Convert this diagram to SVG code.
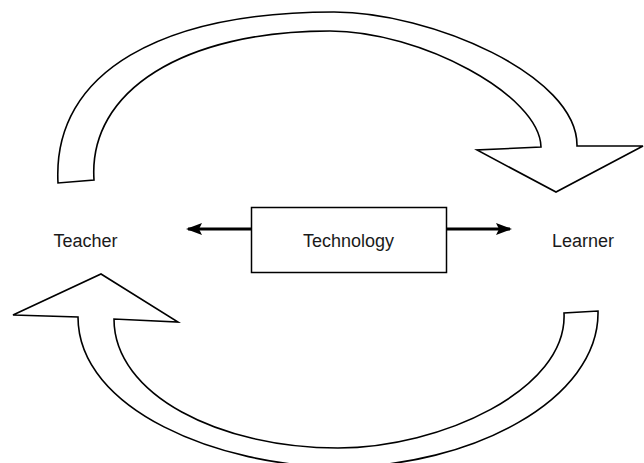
<svg xmlns="http://www.w3.org/2000/svg" width="644" height="463" viewBox="0 0 644 463">
  <style>
    .lbl { font-family: "Liberation Sans", Arial, sans-serif; font-size: 18px; fill: #1a1a1a; }
    .big { fill: #ffffff; stroke: #000000; stroke-width: 1.6; stroke-linejoin: miter; }
    .box { fill: #ffffff; stroke: #000000; stroke-width: 1.5; }
    .conn { fill: none; stroke: #000000; stroke-width: 3; }
  </style>
  <defs>
    <marker id="ah" markerUnits="userSpaceOnUse" markerWidth="18" markerHeight="14" refX="14" refY="7" orient="auto">
      <path d="M0,1 L16,7 L0,13 L3,7 Z" fill="#000000"/>
    </marker>
  </defs>
  <rect width="644" height="463" fill="#ffffff"/>
  <g id="connectors">
    <path id="cycle-top" class="big" d="M58,183 C52,70 165,12 334,12 C430,12 578,75 577,146 L643,146 L556,192 L477,150 L541,147 C540,95 420,31 330,31 C185,31 88,90 94,180 Z"/>
    <path id="cycle-bottom" class="big" d="M13,315 L101,274 L178,322 L114,319 C114,395 220,448 338,448 C440,448 568,390 564,313 L598,311 C600,400 470,467 340,467 C220,467 78,410 78,317 Z"/>
    <line id="tech-to-teacher" class="conn" x1="251" y1="229" x2="188" y2="229" marker-end="url(#ah)"/>
    <line id="tech-to-learner" class="conn" x1="446" y1="229" x2="510" y2="229" marker-end="url(#ah)"/>
  </g>
  <g id="teacher">
    <text class="lbl" x="53.5" y="246.5">Teacher</text>
  </g>
  <g id="technology">
    <rect class="box" x="251.5" y="207.5" width="195" height="65"/>
    <text class="lbl" x="303" y="246.5">Technology</text>
  </g>
  <g id="learner">
    <text class="lbl" x="552" y="246.5">Learner</text>
  </g>
</svg>
